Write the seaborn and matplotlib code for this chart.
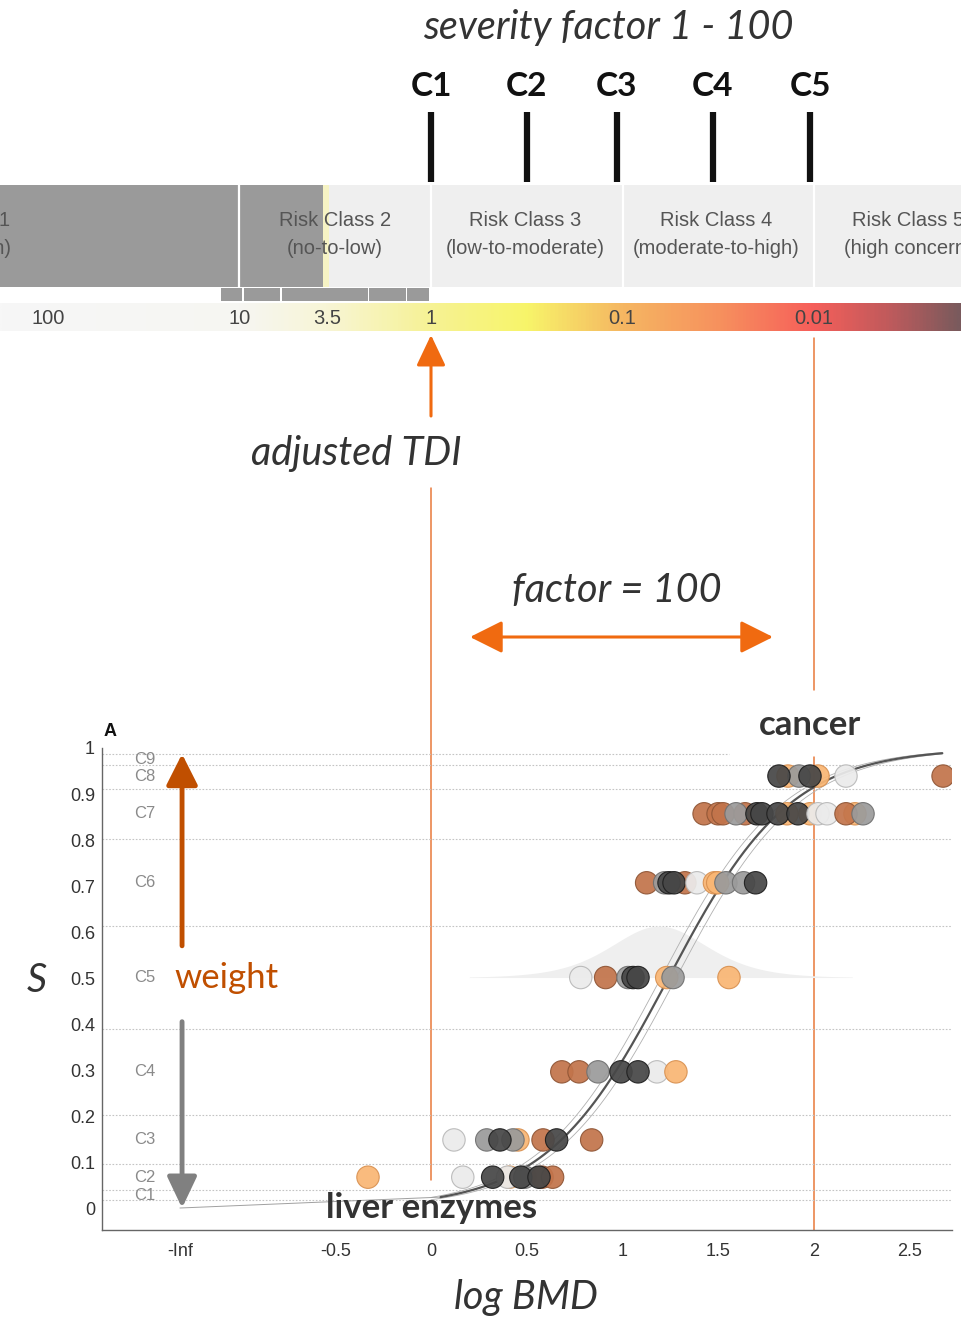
import numpy as np
import pandas as pd
import seaborn as sns
import matplotlib
matplotlib.use('Agg')
import matplotlib.pyplot as plt
from matplotlib.patches import Rectangle
from matplotlib.colors import LinearSegmentedColormap

sns.set_style('white')
plt.rcParams['font.family'] = ['Liberation Sans', 'DejaVu Sans']
LATO = ['Lato', 'DejaVu Sans']

# page geometry (pixels) - log BMD / -log10(TDI) share one horizontal scale
W, H = 961, 1317
PX0 = 431.0       # pixel of log BMD 0 (TDI = 1)
PX_UNIT = 191.5   # pixels per log unit

def px2x(p):
    return (p - PX0) / PX_UNIT

# ---------------- header data ----------------
c_labels = ['C1', 'C2', 'C3', 'C4', 'C5']
c_pos = [0.0, 0.5, 0.97, 1.47, 1.98]

risk_edges = [-1.0, 0.0, 1.0, 2.0]
risk_labels = ['Risk Class 1\n(no concern)', 'Risk Class 2\n(no-to-low)',
               'Risk Class 3\n(low-to-moderate)', 'Risk Class 4\n(moderate-to-high)',
               'Risk Class 5\n(high concern)']
risk_centers = [-2.49, -0.5, 0.49, 1.49, 2.49]

tdi_labels = ['100', '10', '3.5', '1', '0.1', '0.01']
tdi_values = [100, 10, 3.5, 1, 0.1, 0.01]
sub_box_edges = [12.5, 9.5, 6.0, 2.1, 1.33, 1.0]   # TDI factors
dark_band_end = 3.65   # TDI factor where grey shading of class 2 stops
strip_end = 3.4

# colour ramp of the TDI bar (log position, colour)
ramp_pos = [-2.26, -1.0, -0.55, 0.0, 0.5, 1.0, 1.5, 2.0, 2.4, 2.77]
ramp_col = ['#f7f7f7', '#f6f6f2', '#f8f5d6', '#f6f294', '#f8f56a', '#f5b762',
            '#f7925e', '#f65f5a', '#c05a5c', '#7a5a5d']

# ---------------- dose response data ----------------
cat_labels = ['C1', 'C2', 'C3', 'C4', 'C5', 'C6', 'C7', 'C8', 'C9']
cat_mid = [0.028, 0.067, 0.148, 0.296, 0.501, 0.707, 0.857, 0.939, 0.975]
cat_bounds = [0.017, 0.040, 0.095, 0.202, 0.390, 0.612, 0.802, 0.911, 0.963, 0.987]

c2_x = [-0.329, 0.166, 0.41, 0.40, 0.49, 0.58, 0.635, 0.322, 0.469, 0.564]
c2_c = ['orange', 'light', 'orange', 'light', 'gray', 'brown', 'brown', 'dark', 'dark', 'dark']
c3_x = [0.120, 0.291, 0.454, 0.428, 0.585, 0.839, 0.360, 0.656]
c3_c = ['light', 'gray', 'orange', 'gray', 'brown', 'brown', 'dark', 'dark']
c4_x = [0.683, 0.773, 0.872, 1.180, 1.279, 0.992, 1.081]
c4_c = ['brown', 'brown', 'gray', 'light', 'orange', 'dark', 'dark']
c5_x = [0.782, 0.912, 1.029, 1.231, 1.264, 1.556, 1.055, 1.081]
c5_c = ['light', 'brown', 'gray', 'orange', 'gray', 'orange', 'dark', 'dark']
c6_x = [1.126, 1.22, 1.326, 1.243, 1.269, 1.389, 1.48, 1.497, 1.540, 1.632, 1.695]
c6_c = ['brown', 'gray', 'brown', 'dark', 'dark', 'light', 'orange', 'orange', 'gray', 'gray', 'dark']
c7_x = [1.426, 1.499, 1.525, 1.640, 1.593, 1.859, 1.979, 2.214, 1.702, 1.728,
        1.812, 1.916, 2.021, 2.068, 2.167, 2.256]
c7_c = ['brown', 'brown', 'brown', 'brown', 'gray', 'orange', 'orange', 'orange', 'dark', 'dark',
        'dark', 'dark', 'light', 'light', 'brown', 'gray']
c8_x = [1.864, 2.021, 1.922, 1.817, 1.979, 2.167, 2.674]
c8_c = ['orange', 'orange', 'gray', 'dark', 'dark', 'light', 'brown']

fill_pal = {'dark': '#474747', 'gray': '#9b9b9b', 'light': '#ebebeb',
            'brown': '#c2744b', 'orange': '#f9b674'}
edge_pal = {'dark': '#1e1e1e', 'gray': '#707070', 'light': '#b8b8b8',
            'brown': '#8f5535', 'orange': '#d89050'}

# fitted sigmoid and its band
MU, SC = 1.24, 0.32
MU_LO, MU_HI = 1.20, 1.28
BELL_MU, BELL_SC, BELL_H = 1.19, 0.17, 0.112

xtick_pos = [-1.311, -0.5, 0, 0.5, 1, 1.5, 2, 2.5]
xtick_lab = ['-Inf', '-0.5', '0', '0.5', '1', '1.5', '2', '2.5']

ORANGE = '#f06a10'
OLINE = '#e8793a'
BIG = 28.5

# ---------------- figure ----------------
fig = plt.figure(figsize=(W / 100, H / 100), dpi=100)

top = fig.add_axes([0, 0, 1, 1])
XL, XR = px2x(0), px2x(W)
top.set_xlim(XL, XR)
top.set_ylim(H, 0)
top.axis('off')

# title and class marks
top.text(px2x(608), 27, 'severity factor 1 - 100', family=LATO, style='italic',
         fontsize=BIG, color='#333333', ha='center', va='center')
for lab, p in zip(c_labels, c_pos):
    top.text(p, 86, lab, family=LATO, weight='bold', fontsize=24, color='#111111',
             ha='center', va='center')
top.vlines(c_pos, 112, 182, color='#111111', lw=4.5)

# risk class band
top.add_patch(Rectangle((XL, 185), XR - XL, 102, color='#efefef', lw=0))
top.add_patch(Rectangle((XL, 185), -np.log10(dark_band_end) - XL, 102, color='#9a9a9a', lw=0))
top.add_patch(Rectangle((-np.log10(dark_band_end), 185),
                        np.log10(dark_band_end) - np.log10(strip_end), 102, color='#f6f3c4', lw=0))
top.vlines(risk_edges, 185, 287, color='white', lw=1.6)
for lab, cx in zip(risk_labels, risk_centers):
    top.text(cx, 234, lab, fontsize=14.5, color='#555555', ha='center', va='center',
             linespacing=1.6)

# small boxes under class 2
for a, b in zip(sub_box_edges[:-1], sub_box_edges[1:]):
    x0, x1 = -np.log10(a), -np.log10(b)
    top.add_patch(Rectangle((x0, 288), x1 - x0 - 0.009, 13, color='#9a9a9a', lw=0))

# TDI colour bar
cmap = LinearSegmentedColormap.from_list(
    'tdi', [((p - ramp_pos[0]) / (ramp_pos[-1] - ramp_pos[0]), c) for p, c in zip(ramp_pos, ramp_col)])
grad = np.linspace(0, 1, 600)[None, :]
top.imshow(grad, cmap=cmap, aspect='auto', extent=(ramp_pos[0], ramp_pos[-1], 331, 303), zorder=1)
for lab, v in zip(tdi_labels, tdi_values):
    top.text(-np.log10(v), 319, lab, fontsize=14.5, color='#444444', ha='center', va='center', zorder=2)

# adjusted TDI arrow and reference lines
top.annotate('', xy=(0, 335), xytext=(0, 416),
             arrowprops=dict(arrowstyle='-|>,head_length=0.95,head_width=0.45', mutation_scale=20,
                             lw=2.2, color=ORANGE, shrinkA=0, shrinkB=0))
top.text(px2x(356), 453, 'adjusted TDI', family=LATO, style='italic', fontsize=BIG,
         color='#333333', ha='center', va='center')
top.plot([0, 0], [488, 1180], color=OLINE, lw=1.1)
top.plot([2, 2], [338, 690], color=OLINE, lw=1.1)
top.plot([2, 2], [757, 1230], color=OLINE, lw=1.1)

top.text(px2x(617), 591, 'factor = 100', family=LATO, style='italic', fontsize=BIG,
         color='#333333', ha='center', va='center')
top.annotate('', xy=(px2x(773), 637), xytext=(px2x(470), 637),
             arrowprops=dict(arrowstyle='<|-|>,head_length=1.0,head_width=0.5', mutation_scale=20,
                             lw=2.2, color=ORANGE, shrinkA=0, shrinkB=0))
top.text(px2x(810), 725, 'cancer', family=LATO, weight='bold', fontsize=25,
         color='#333333', ha='center', va='center')
top.text(px2x(110), 732, 'A', weight='bold', fontsize=13, color='#111111', ha='center', va='center')
top.text(px2x(37), 980, 'S', family=LATO, style='italic', fontsize=BIG,
         color='#333333', ha='center', va='center')
top.text(px2x(526), 1298, 'log BMD', family=LATO, style='italic', fontsize=BIG,
         color='#333333', ha='center', va='center')

# ---------------- dose response panel ----------------
YB, YT = -0.0478, 1.0
ax = fig.add_axes([102 / W, 1 - 1230 / H, 850 / W, (1230 - 748) / H])
ax.set_facecolor('none')
ax.set_xlim(px2x(102), px2x(952))
ax.set_ylim(YB, YT)

for i, b in enumerate(cat_bounds):
    xr = 1.556 if i == len(cat_bounds) - 1 else 2.72
    ax.plot([px2x(102), xr], [b, b], color='#c4c4c4', lw=0.8, ls=(0, (1.5, 1.5)), zorder=1)

for lab, y in zip(cat_labels, cat_mid):
    ax.text(px2x(134), y, lab, fontsize=12, color='#8a8a8a', ha='left', va='center')

# bell shaped density on C5 row
bx = np.linspace(0.2, 2.2, 300)
z = np.exp(-(bx - BELL_MU) / BELL_SC)
dens = 4 * z / (1 + z) ** 2
ax.fill_between(bx, cat_mid[4], cat_mid[4] + BELL_H * dens, color='#efefef', lw=0, zorder=1)

# sigmoid with band
def sig(x, mu):
    return 1 / (1 + np.exp(-(x - mu) / SC))

xc = np.linspace(0.0, 2.67, 300)
for mu in (MU_LO, MU_HI):
    ax.plot(xc, sig(xc, mu), color='#b0b0b0', lw=0.6, zorder=2)
xd = np.linspace(0.05, 2.67, 300)
sns.lineplot(x=xd, y=sig(xd, MU), ax=ax, color='#555555', lw=1.6, zorder=3)
ax.plot([xtick_pos[0], 0.05], [0, sig(0.05, MU)], color='#a0a0a0', lw=0.7, zorder=2)

# points
rows = [(c2_x, c2_c, cat_mid[1]), (c3_x, c3_c, cat_mid[2]), (c4_x, c4_c, cat_mid[3]),
        (c5_x, c5_c, cat_mid[4]), (c6_x, c6_c, cat_mid[5]), (c7_x, c7_c, cat_mid[6]),
        (c8_x, c8_c, cat_mid[7])]
df = pd.concat([pd.DataFrame({'x': xs, 'y': y, 'col': cs}) for xs, cs, y in rows], ignore_index=True)
sns.scatterplot(data=df, x='x', y='y', hue='col', palette=fill_pal, s=260, linewidth=0.8,
                alpha=0.93, legend=False, ax=ax, zorder=4)
ax.collections[-1].set_edgecolors([edge_pal[c] for c in df['col']])

# weight arrows and labels
ax.annotate('', xy=(-1.30, 0.987), xytext=(-1.30, 0.57),
            arrowprops=dict(arrowstyle='-|>,head_length=0.95,head_width=0.48', mutation_scale=20,
                            lw=3.5, color='#c04f00', shrinkA=0, shrinkB=0))
ax.annotate('', xy=(-1.30, 0.0), xytext=(-1.30, 0.405),
            arrowprops=dict(arrowstyle='-|>,head_length=0.95,head_width=0.45', mutation_scale=20,
                            lw=3.5, color='#808080', shrinkA=0, shrinkB=0))
ax.text(px2x(226), 0.5, 'weight', family=LATO, fontsize=25, color='#c04f00', ha='center', va='center')
ax.text(px2x(432), 0.0, 'liver enzymes', family=LATO, weight='bold', fontsize=25,
        color='#333333', ha='center', va='center', zorder=6)

ax.set_xticks(xtick_pos)
ax.set_xticklabels(xtick_lab)
ax.set_yticks(np.round(np.arange(0, 1.01, 0.1), 1))
ax.set_yticklabels(['0'] + ['%.1f' % v for v in np.arange(0.1, 0.95, 0.1)] + ['1'])
ax.tick_params(direction='in', length=7, width=1, color='#666666', labelsize=13,
               labelcolor='#333333')
ax.tick_params(axis='x', pad=9)
ax.tick_params(axis='y', pad=5)
sns.despine(ax=ax, top=True, right=True)
for s in ('left', 'bottom'):
    ax.spines[s].set_color('#666666')
    ax.spines[s].set_linewidth(1)
ax.set_xlabel('')
ax.set_ylabel('')

fig.savefig('out.png', dpi=100)
